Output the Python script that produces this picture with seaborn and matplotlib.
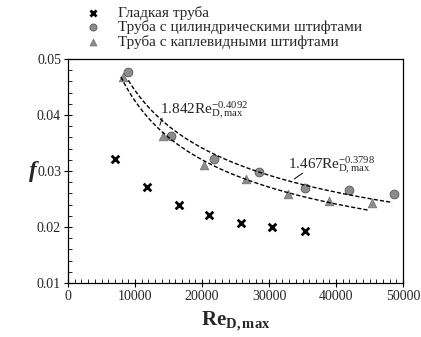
import numpy as np
import pandas as pd
import seaborn as sns
import matplotlib.pyplot as plt
from matplotlib.ticker import MultipleLocator

# smooth tube
re_smooth = [7000, 11800, 16500, 21100, 25800, 30500, 35300]
f_smooth = [0.0322, 0.0271, 0.0240, 0.0221, 0.0208, 0.0200, 0.0192]
# cylindrical pins
re_cyl = [9000, 15300, 21800, 28500, 35300, 41900, 48600]
f_cyl = [0.0477, 0.0363, 0.0321, 0.0299, 0.0269, 0.0266, 0.0259]
# drop-shaped pins
re_drop = [8200, 14200, 20300, 26500, 32800, 39000, 45300]
f_drop = [0.0467, 0.0363, 0.0310, 0.0286, 0.0259, 0.0246, 0.0242]

# fit coefficients shown on the chart
fit_cyl = (1.467, -0.3798)
fit_drop = (1.842, -0.4092)

labels = ['Гладкая труба',
          'Труба с цилиндрическими штифтами',
          'Труба с каплевидными штифтами']

sns.set_theme(style='ticks')
plt.rcParams['font.family'] = ['Liberation Serif', 'DejaVu Serif']
plt.rcParams['mathtext.fontset'] = 'custom'
plt.rcParams['mathtext.rm'] = 'Liberation Serif'
plt.rcParams['mathtext.it'] = 'Liberation Serif:italic'
plt.rcParams['mathtext.bf'] = 'Liberation Serif:bold'

fig = plt.figure(figsize=(4.21, 3.37), dpi=100)
ax = fig.add_axes([68/421, 1-283/337, 335/421, 224/337])

sns.scatterplot(x=re_smooth, y=f_smooth, marker='x', color='black', s=30,
                linewidth=2, ax=ax, label=labels[0], legend=False)
sns.scatterplot(x=re_cyl, y=f_cyl, marker='o', color='#8c8c8c', s=40,
                linewidth=0.6, edgecolor='#555555', ax=ax, label=labels[1], legend=False)
sns.scatterplot(x=re_drop, y=f_drop, marker='^', color='#8c8c8c', s=40,
                linewidth=0.4, edgecolor='#666666', ax=ax, label=labels[2], legend=False)

# fit curves
x1 = np.linspace(re_cyl[0], 48400, 200)
x2 = np.linspace(7900, 44800, 200)
sns.lineplot(x=x1, y=fit_cyl[0] * x1 ** fit_cyl[1], color='black', lw=1,
             ax=ax, linestyle=(0, (3, 1.5)), legend=False)
sns.lineplot(x=x2, y=fit_drop[0] * x2 ** fit_drop[1], color='black', lw=1,
             ax=ax, linestyle=(0, (3, 1.5)), legend=False)
if ax.get_legend() is not None:
    ax.get_legend().remove()

ax.text(13700, 0.0402, r'1.842Re$^{-0.4092}_{\mathrm{D,max}}$', fontsize=11,
        ha='left', va='baseline')
ax.annotate('', xy=(13580, 0.0377), xytext=(14180, 0.0399),
            arrowprops=dict(arrowstyle='-', lw=0.7, color='black'))
ax.text(32800, 0.0304, r'1.467Re$^{-0.3798}_{\mathrm{D,max}}$', fontsize=11,
        ha='left', va='baseline')
ax.annotate('', xy=(33430, 0.0283), xytext=(35370, 0.0299),
            arrowprops=dict(arrowstyle='-', lw=0.7, color='black'))

ax.set_xlim(0, 50000)
ax.set_ylim(0.01, 0.05)
ax.xaxis.set_major_locator(MultipleLocator(10000))
ax.xaxis.set_minor_locator(MultipleLocator(1000))
ax.yaxis.set_major_locator(MultipleLocator(0.01))
ax.yaxis.set_minor_locator(MultipleLocator(0.002))
ax.tick_params(which='major', direction='inout', length=6, width=0.8, labelsize=10,
               color='black', pad=2)
ax.tick_params(which='minor', direction='in', length=3, width=0.6, color='black')
for sp in ax.spines.values():
    sp.set_visible(True)
    sp.set_linewidth(0.9)
    sp.set_color('black')

ax.set_xlabel(r'$\mathbf{Re_{D,max}}$', fontsize=15, labelpad=5)
ax.set_ylabel('f', fontsize=17, fontweight='bold', fontstyle='italic',
              rotation=0, labelpad=3, va='center')

h, l = ax.get_legend_handles_labels()
fig.legend(h[:3], l[:3], loc='upper left', bbox_to_anchor=(72/421, 1.0),
           frameon=False, fontsize=11, handletextpad=0.6, labelspacing=0.02,
           borderaxespad=0.0, markerscale=0.8)

fig.savefig('out.png', dpi=100)
